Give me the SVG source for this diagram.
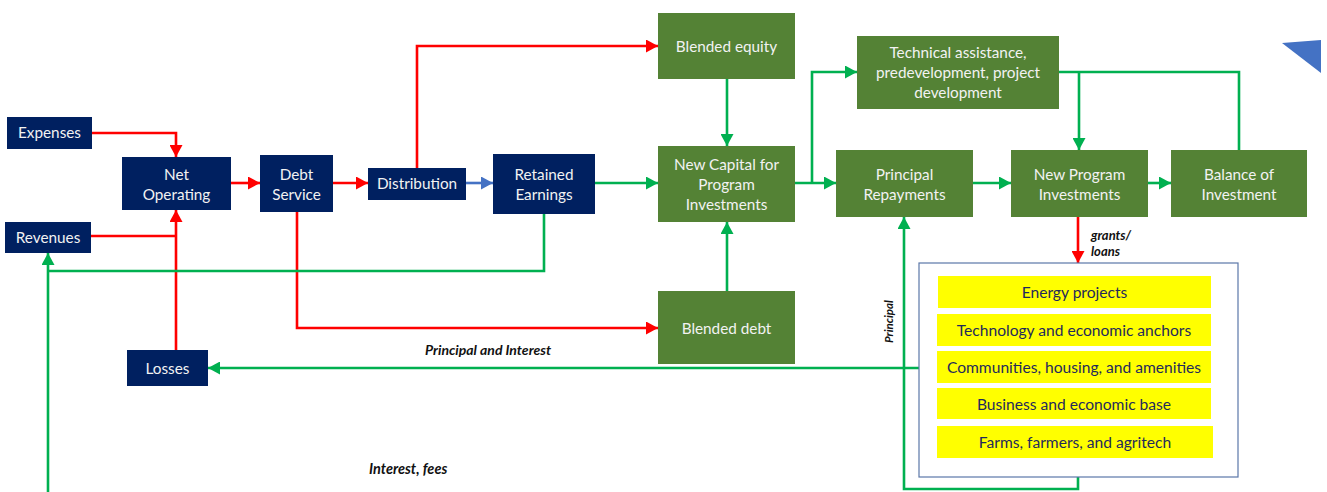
<svg xmlns="http://www.w3.org/2000/svg" width="1327" height="492" viewBox="0 0 1327 492">
  <style>
    .navy { fill: #002060; }
    .olive { fill: #548235; }
    .item { fill: #FFFF00; }
    .lbl { font-family: Lato, "Open Sans", "Liberation Sans", sans-serif; font-size: 15.3px; fill: #F2F2F2; text-anchor: middle; }
    .itxt { font-family: Lato, "Open Sans", "Liberation Sans", sans-serif; font-size: 15.6px; fill: #1F2A5C; text-anchor: middle; }
    .note { font-family: Lato, "Open Sans", "Liberation Sans", sans-serif; font-size: 14px; font-weight: bold; font-style: italic; fill: #111111; }
    .red { stroke: #FF0000; stroke-width: 2.6; fill: none; }
    .green { stroke: #00B050; stroke-width: 2.6; fill: none; }
    .blue { stroke: #4472C4; stroke-width: 2.6; fill: none; }
  </style>
  <defs>
    <marker id="arRed" markerUnits="userSpaceOnUse" markerWidth="13" markerHeight="13" refX="12" refY="6.5" orient="auto">
      <path d="M0,0 L12,6.5 L0,13 z" fill="#FF0000"/>
    </marker>
    <marker id="arGreen" markerUnits="userSpaceOnUse" markerWidth="13" markerHeight="13" refX="12" refY="6.5" orient="auto">
      <path d="M0,0 L12,6.5 L0,13 z" fill="#00B050"/>
    </marker>
    <marker id="arBlue" markerUnits="userSpaceOnUse" markerWidth="13" markerHeight="13" refX="12" refY="6.5" orient="auto">
      <path d="M0,0 L12,6.5 L0,13 z" fill="#4472C4"/>
    </marker>
  </defs>

  <!-- corner triangle -->
  <polygon points="1282,43 1321,40 1321,73" fill="#4472C4"/>

  <!-- connectors -->
  <g id="connectors">
    <path class="red" d="M92,133 H176 V157" marker-end="url(#arRed)"/>
    <path class="red" d="M91,236 H176"/>
    <path class="red" d="M176,350 V210" marker-end="url(#arRed)"/>
    <path class="red" d="M231,183 H260" marker-end="url(#arRed)"/>
    <path class="red" d="M333,183 H368" marker-end="url(#arRed)"/>
    <path class="blue" d="M466,183 H493" marker-end="url(#arBlue)"/>
    <path class="red" d="M417,168 V46 H658" marker-end="url(#arRed)"/>
    <path class="red" d="M297,212 V328 H658" marker-end="url(#arRed)"/>
    <path class="green" d="M595,183 H658" marker-end="url(#arGreen)"/>
    <path class="green" d="M544,214 V271 H48"/>
    <path class="green" d="M48,495 V253" marker-end="url(#arGreen)"/>
    <path class="green" d="M727,79 V146" marker-end="url(#arGreen)"/>
    <path class="green" d="M727,291 V222" marker-end="url(#arGreen)"/>
    <path class="green" d="M795,183 H836" marker-end="url(#arGreen)"/>
    <path class="green" d="M812,183 V72 H857" marker-end="url(#arGreen)"/>
    <path class="green" d="M973,183 H1011" marker-end="url(#arGreen)"/>
    <path class="green" d="M1148,183 H1171" marker-end="url(#arGreen)"/>
    <path class="green" d="M1239,150 V72 H1059"/>
    <path class="green" d="M1079,72 V150" marker-end="url(#arGreen)"/>
    <path class="red" d="M1078,217 V263" marker-end="url(#arRed)"/>
    <path class="green" d="M919,368 H208" marker-end="url(#arGreen)"/>
    <path class="green" d="M1078,477 V489 H904 V217" marker-end="url(#arGreen)"/>
  </g>

  <!-- connector labels -->
  <text class="note" x="425" y="355">Principal and Interest</text>
  <text class="note" x="369" y="474" style="font-size:14.5px">Interest, fees</text>
  <text class="note" x="1091" y="240" style="font-size:13px">grants/</text>
  <text class="note" x="1091" y="256" style="font-size:13px">loans</text>
  <text class="note" transform="translate(893,343) rotate(-90)" style="font-size:11.5px">Principal</text>

  <!-- operating nodes -->
  <g id="expenses"><rect class="navy" x="7" y="117" width="85" height="32"/><text class="lbl" x="49.5" y="138">Expenses</text></g>
  <g id="revenues"><rect class="navy" x="5" y="222" width="86" height="31"/><text class="lbl" x="48" y="243">Revenues</text></g>
  <g id="net-operating"><rect class="navy" x="122" y="157" width="109" height="53"/><text class="lbl" x="176.5" y="180">Net</text><text class="lbl" x="176.5" y="200">Operating</text></g>
  <g id="debt-service"><rect class="navy" x="260" y="155" width="73" height="57"/><text class="lbl" x="296.5" y="180">Debt</text><text class="lbl" x="296.5" y="200">Service</text></g>
  <g id="distribution"><rect class="navy" x="368" y="168" width="98" height="32"/><text class="lbl" x="417" y="189">Distribution</text></g>
  <g id="retained-earnings"><rect class="navy" x="493" y="154" width="102" height="60"/><text class="lbl" x="544" y="180">Retained</text><text class="lbl" x="544" y="200">Earnings</text></g>
  <g id="losses"><rect class="navy" x="127" y="350" width="81" height="36"/><text class="lbl" x="167.5" y="374">Losses</text></g>

  <!-- capital nodes -->
  <g id="blended-equity"><rect class="olive" x="658" y="13" width="137" height="66"/><text class="lbl" x="726.5" y="52">Blended equity</text></g>
  <g id="new-capital"><rect class="olive" x="658" y="146" width="137" height="76"/><text class="lbl" x="726.5" y="170">New Capital for</text><text class="lbl" x="726.5" y="190">Program</text><text class="lbl" x="726.5" y="210">Investments</text></g>
  <g id="blended-debt"><rect class="olive" x="658" y="291" width="137" height="73"/><text class="lbl" x="726.5" y="334">Blended debt</text></g>
  <g id="technical-assistance"><rect class="olive" x="857" y="36" width="202" height="73"/><text class="lbl" x="958" y="58">Technical assistance,</text><text class="lbl" x="958" y="78">predevelopment, project</text><text class="lbl" x="958" y="98">development</text></g>
  <g id="principal-repayments"><rect class="olive" x="836" y="150" width="137" height="67"/><text class="lbl" x="904.5" y="180">Principal</text><text class="lbl" x="904.5" y="200">Repayments</text></g>
  <g id="new-program"><rect class="olive" x="1011" y="150" width="137" height="67"/><text class="lbl" x="1079.5" y="180">New Program</text><text class="lbl" x="1079.5" y="200">Investments</text></g>
  <g id="balance"><rect class="olive" x="1171" y="150" width="136" height="67"/><text class="lbl" x="1239" y="180">Balance of</text><text class="lbl" x="1239" y="200">Investment</text></g>

  <!-- program sectors -->
  <g id="sectors">
    <rect x="919" y="263" width="319" height="214" fill="#FFFFFF" stroke="#5B77A8" stroke-width="1.2"/>
    <rect class="item" x="938" y="276" width="273" height="32"/><text class="itxt" x="1074.5" y="298">Energy projects</text>
    <rect class="item" x="937" y="314" width="274" height="32"/><text class="itxt" x="1074" y="336">Technology and economic anchors</text>
    <rect class="item" x="937" y="351" width="274" height="32"/><text class="itxt" x="1074" y="373">Communities, housing, and amenities</text>
    <rect class="item" x="937" y="388" width="274" height="31"/><text class="itxt" x="1074" y="410">Business and economic base</text>
    <rect class="item" x="937" y="426" width="276" height="32"/><text class="itxt" x="1075" y="448">Farms, farmers, and agritech</text>
  </g>
</svg>
